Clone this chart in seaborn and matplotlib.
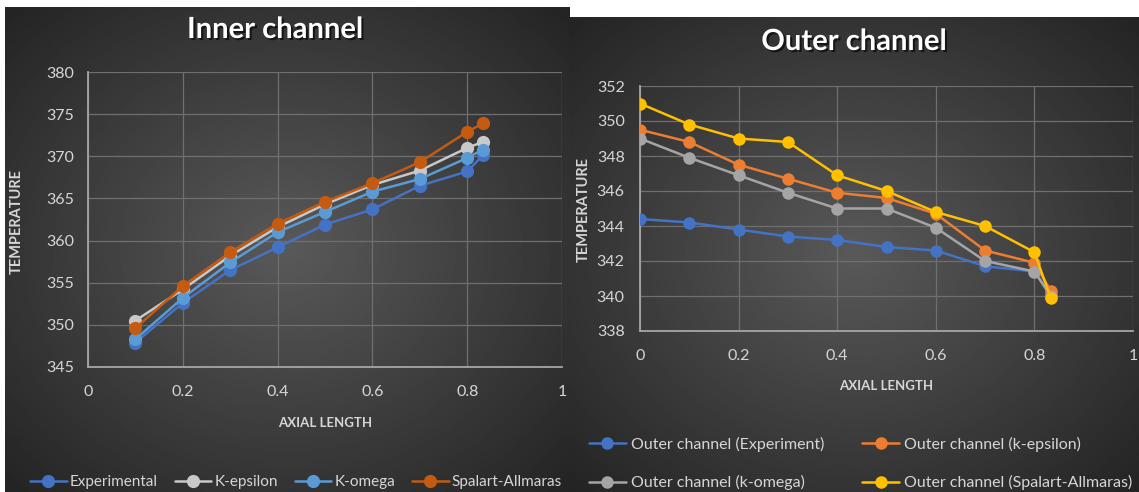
import numpy as np
import matplotlib
matplotlib.use('Agg')
import matplotlib.pyplot as plt
import matplotlib.patheffects as pe
import seaborn as sns

# ---------------- data ----------------
inner_x = [0.1, 0.2, 0.3, 0.4, 0.5, 0.6, 0.7, 0.8, 0.833]
inner_exp = [347.9, 352.6, 356.5, 359.2, 361.9, 363.7, 366.5, 368.2, 370.1]
inner_keps = [350.5, 354.2, 358.2, 361.6, 364.3, 366.6, 368.3, 371.0, 371.7]
inner_komega = [348.3, 353.2, 357.4, 361.0, 363.4, 365.8, 367.3, 369.8, 370.8]
inner_sa = [349.6, 354.6, 358.6, 362.0, 364.6, 366.8, 369.3, 372.9, 373.9]
inner_labels = ["Experimental", "K-epsilon", "K-omega", "Spalart-Allmaras"]

outer_x = [0.0, 0.1, 0.2, 0.3, 0.4, 0.5, 0.6, 0.7, 0.8, 0.833]
outer_exp = [344.4, 344.2, 343.8, 343.4, 343.2, 342.8, 342.6, 341.7, 341.4, 340.1]
outer_keps = [349.5, 348.8, 347.5, 346.7, 345.9, 345.6, 344.7, 342.6, 341.9, 340.3]
outer_komega = [349.0, 347.9, 346.9, 345.9, 345.0, 345.0, 343.9, 342.0, 341.4, 340.0]
outer_sa = [351.0, 349.8, 349.0, 348.8, 346.9, 346.0, 344.8, 344.0, 342.5, 339.9]
outer_labels = ["Outer channel (Experiment)", "Outer channel (k-epsilon)",
                "Outer channel (k-omega)", "Outer channel (Spalart-Allmaras)"]

inner_xticks = [0, 0.2, 0.4, 0.6, 0.8, 1]
inner_yticks = [345, 350, 355, 360, 365, 370, 375, 380]
outer_xticks = [0, 0.2, 0.4, 0.6, 0.8, 1]
outer_yticks = [338, 340, 342, 344, 346, 348, 350, 352]

inner_colors = ["#4472C4", "#C9C9C9", "#5B9BD5", "#C55A11"]
outer_colors = ["#4472C4", "#ED7D31", "#A5A5A5", "#FFC000"]

# ---------------- styling ----------------
sns.set_theme(style="dark")
plt.rcParams['font.family'] = ['Lato', 'DejaVu Sans']

W, H = 1139, 492
fig = plt.figure(figsize=(W / 100, H / 100), dpi=100, facecolor="white")


def fx(px):
    return px / W


def fy(py):
    return 1 - py / H


def panel(x0, y0, x1, y1):
    ax = fig.add_axes([fx(x0), fy(y1), fx(x1) - fx(x0), fy(y0) - fy(y1)])
    h = 300
    w = int(300 * (x1 - x0) / (y1 - y0))
    yy, xx = np.mgrid[-1:1:h * 1j, -1:1:w * 1j]
    r = np.sqrt(xx ** 2 + yy ** 2) / np.sqrt(2)
    v = 0.35 - 0.21 * r
    ax.imshow(v, cmap="gray", vmin=0, vmax=1, aspect="auto",
              extent=[0, 1, 0, 1], interpolation="bilinear")
    ax.set_axis_off()
    return ax


panel(5, 7, 570, 492)
panel(570, 17, 1139, 492)

GRID = "#6f6f6f"
SPINE = "#a6a6a6"
TICK = "#d6d6d6"


def plot_axes(x0, x1, ytop, ybot, xs, series, colors, labels, xticks, yticks,
              ms, ypad, xpad):
    ax = fig.add_axes([fx(x0), fy(ybot), fx(x1) - fx(x0), fy(ytop) - fy(ybot)])
    ax.set_facecolor("none")
    for ys, c, lab in zip(series, colors, labels):
        sns.lineplot(x=xs, y=ys, ax=ax, color=c, marker="o", markersize=ms,
                     linewidth=1.8, markeredgewidth=0, label=lab, legend=False,
                     zorder=3)
    ax.set_xlim(xticks[0], xticks[-1])
    ax.set_ylim(yticks[0], yticks[-1])
    ax.set_xticks(xticks)
    ax.set_xticklabels([("%g" % t) for t in xticks])
    ax.set_yticks(yticks)
    ax.grid(True, color=GRID, linewidth=0.9)
    for s in ["top", "right"]:
        ax.spines[s].set_visible(False)
    for s in ["left", "bottom"]:
        ax.spines[s].set_visible(True)
        ax.spines[s].set_color(SPINE)
        ax.spines[s].set_linewidth(1.3)
    ax.tick_params(axis="both", length=0, labelsize=11.5, labelcolor=TICK)
    ax.tick_params(axis="y", pad=ypad)
    ax.tick_params(axis="x", pad=xpad)
    ax.set_xlabel("")
    ax.set_ylabel("")
    return ax


ax1 = plot_axes(88, 562, 72, 367, inner_x,
                [inner_exp, inner_keps, inner_komega, inner_sa],
                inner_colors, inner_labels, inner_xticks, inner_yticks,
                ms=9.5, ypad=10, xpad=13)
ax2 = plot_axes(640, 1133, 86, 331, outer_x,
                [outer_exp, outer_keps, outer_komega, outer_sa],
                outer_colors, outer_labels, outer_xticks, outer_yticks,
                ms=9, ypad=11, xpad=13)

shadow = [pe.withSimplePatchShadow(offset=(1.5, -1.5), shadow_rgbFace="black", alpha=0.6)]
fig.text(fx(275), fy(30), "Inner channel", color="white", fontsize=21,
         fontweight="bold", ha="center", va="center", path_effects=shadow)
fig.text(fx(854), fy(42), "Outer channel", color="white", fontsize=21,
         fontweight="bold", ha="center", va="center", path_effects=shadow)

fig.text(fx(17), fy(222), "TEMPERATURE", color=TICK, fontsize=10.5,
         fontweight="bold", rotation=90, ha="center", va="center")
fig.text(fx(584), fy(210), "TEMPERATURE", color=TICK, fontsize=10.5,
         fontweight="bold", rotation=90, ha="center", va="center")
fig.text(fx(325), fy(423), "AXIAL LENGTH", color=TICK, fontsize=9.5,
         fontweight="bold", ha="center", va="center")
fig.text(fx(886), fy(386), "AXIAL LENGTH", color=TICK, fontsize=9.5,
         fontweight="bold", ha="center", va="center")

h1 = ax1.get_lines()[:4]
fig.legend(h1, inner_labels, loc="center left", bbox_to_anchor=(fx(30), fy(482)),
           ncol=4, frameon=False, fontsize=11, labelcolor=TICK,
           handlelength=2.4, handletextpad=0.2, columnspacing=1.1,
           borderaxespad=0, borderpad=0)

h2 = ax2.get_lines()[:4]
order = [0, 2, 1, 3]
fig.legend([h2[i] for i in order], [outer_labels[i] for i in order],
           loc="upper left", bbox_to_anchor=(fx(589), fy(437)),
           ncol=2, frameon=False, fontsize=11.5, labelcolor=TICK,
           handlelength=2.3, handletextpad=0.3, columnspacing=2.4,
           labelspacing=1.45, borderaxespad=0, borderpad=0)

fig.savefig("out.png", dpi=100, facecolor="white")
